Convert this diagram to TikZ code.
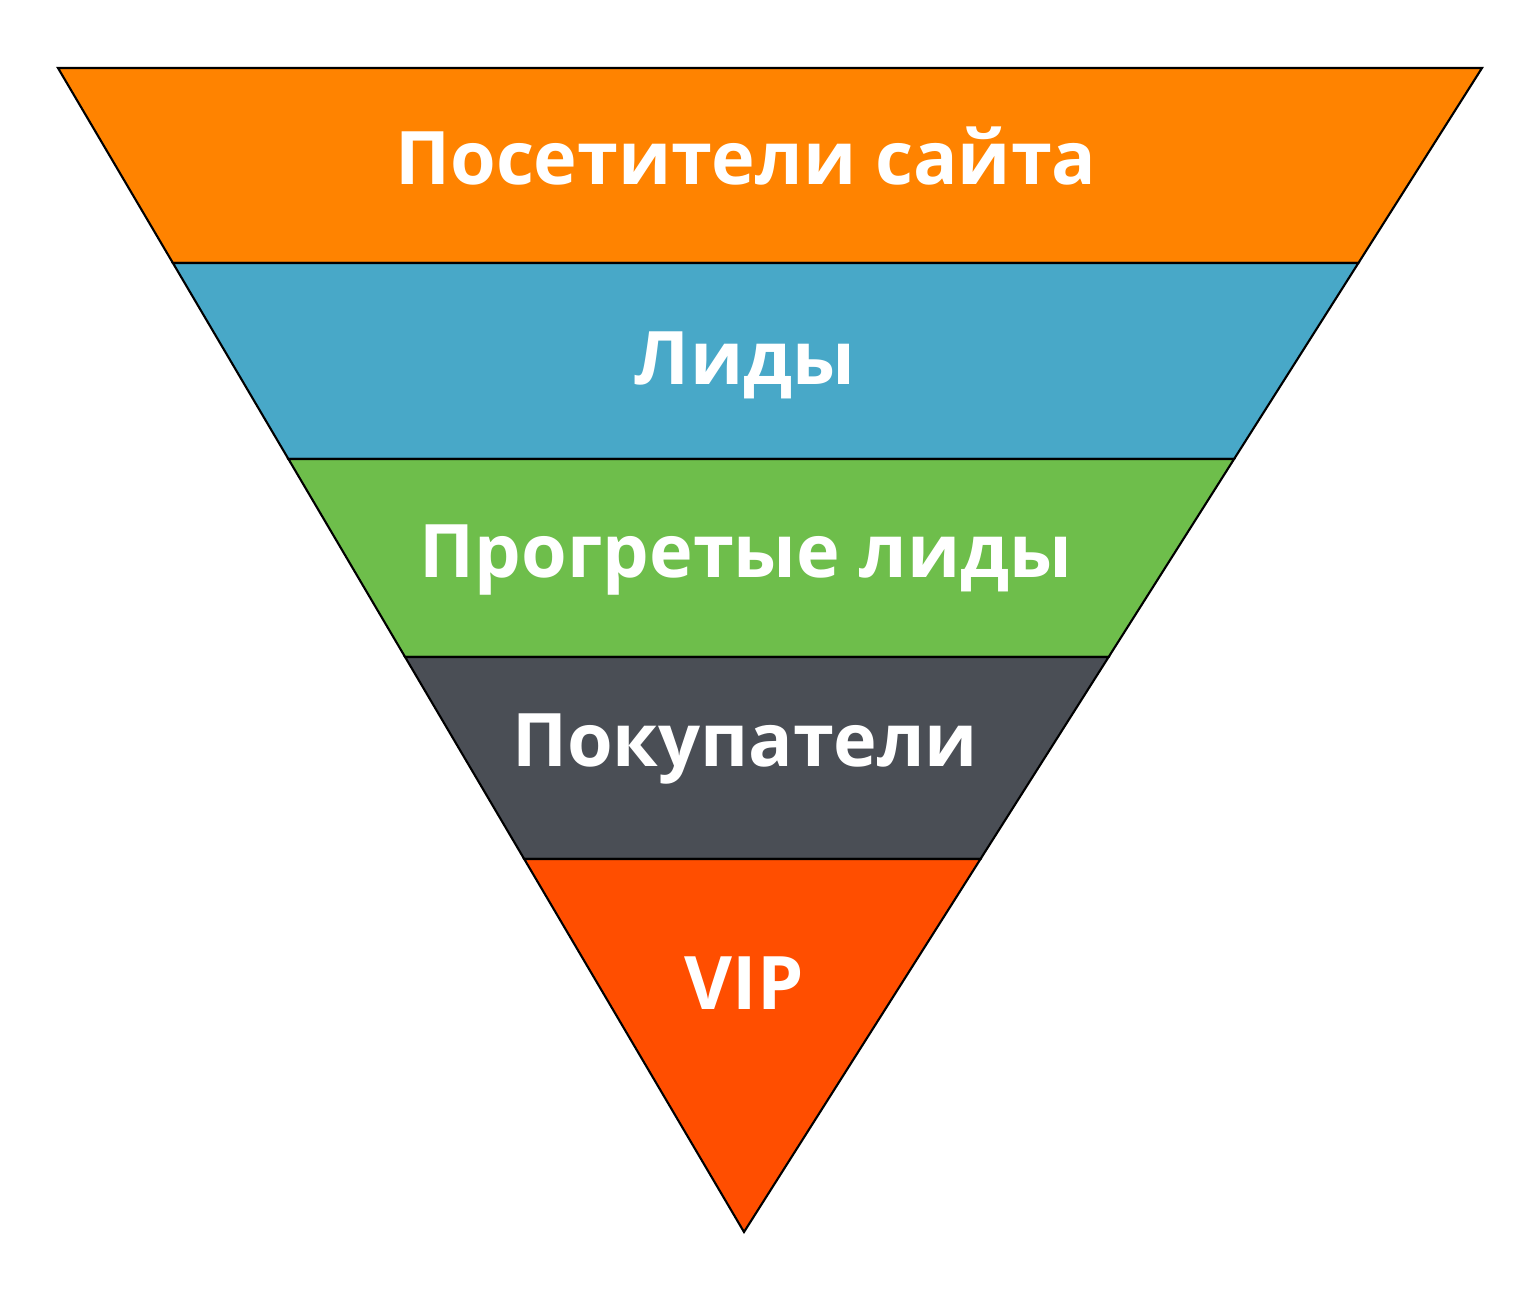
\documentclass[tikz,border=0pt]{standalone}
\usepackage{fontspec}
\setmainfont{Open Sans}
\definecolor{funnelorange}{RGB}{255,131,0}
\definecolor{funnelblue}{RGB}{72,168,200}
\definecolor{funnelgreen}{RGB}{110,190,75}
\definecolor{funnelgray}{RGB}{74,78,85}
\definecolor{funnelred}{RGB}{255,78,0}

\begin{document}
\begin{tikzpicture}[x=0.01cm, y=-0.01cm,
	band/.style={draw=black, line width=0.6pt, line join=miter},
	lbl/.style={text=white, font=\fontsize{21}{25}\bfseries\selectfont, anchor=base, inner sep=0pt}]
			\useasboundingbox (0,0) rectangle (1536,1292);
			\draw [band, fill=funnelorange] (58,68) -- (1482,68) -- (1358.4,263) -- (172.9,263) -- cycle;
			\draw [band, fill=funnelblue] (172.9,263) -- (1358.4,263) -- (1234.1,459) -- (288.4,459) -- cycle;
			\draw [band, fill=funnelgreen] (288.4,459) -- (1234.1,459) -- (1108.6,657) -- (405.1,657) -- cycle;
			\draw [band, fill=funnelgray] (405.1,657) -- (1108.6,657) -- (980.5,859) -- (524.2,859) -- cycle;
			\draw [band, fill=funnelred] (524.2,859) -- (980.5,859) -- (744,1232) -- cycle;
			\node [lbl] (visitors) at (746,185) {Посетители сайта};
			\node [lbl] (leads) at (745,385) {Лиды};
			\node [lbl] (warm) at (746,578) {Прогретые лиды};
			\node [lbl] (buyers) at (745,767) {Покупатели};
			\node [lbl] (vip) at (744,1010) {VIP};
	\end{tikzpicture}
\end{document}
